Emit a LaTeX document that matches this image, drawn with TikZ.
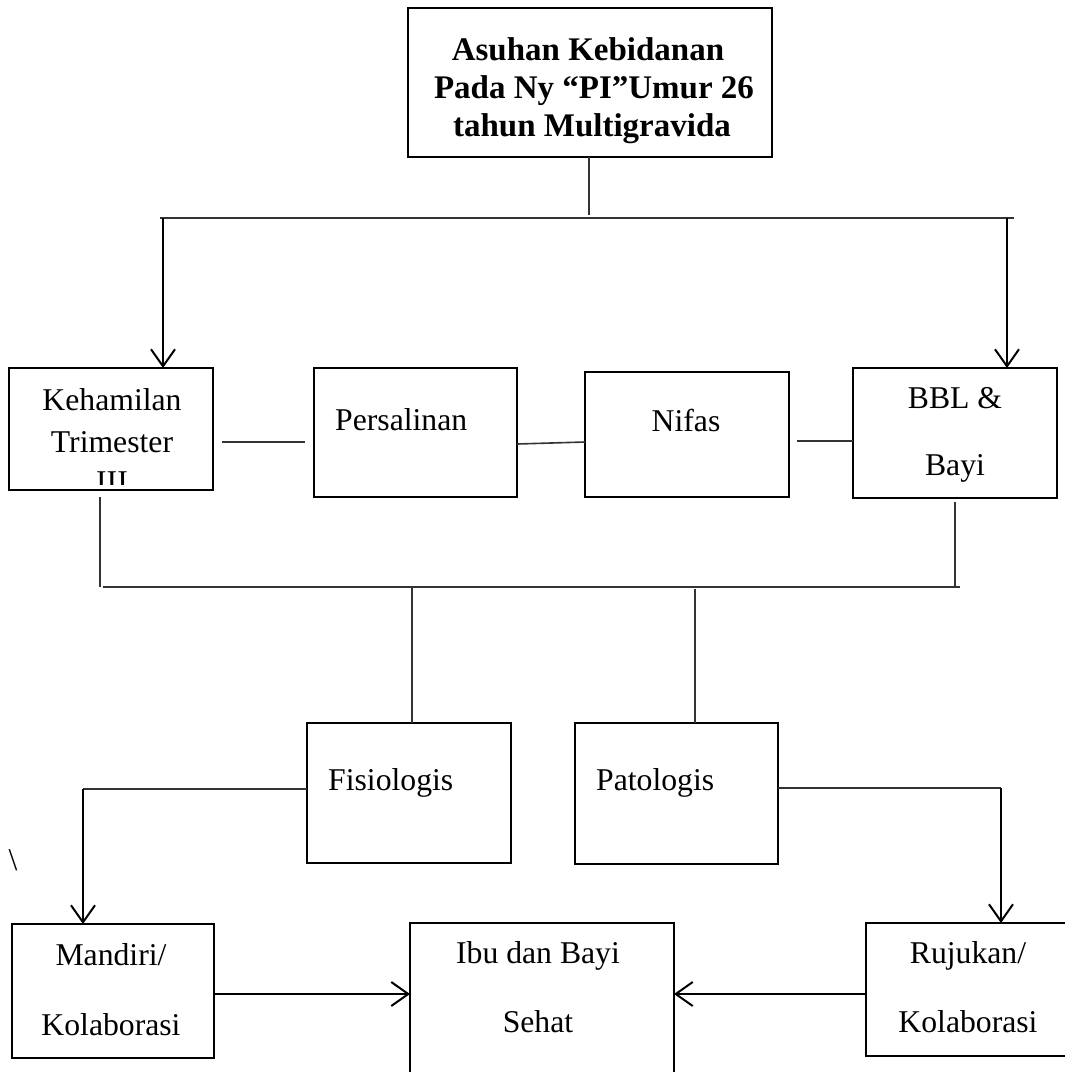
\documentclass[tikz,border=0pt]{standalone}
\usepackage{fontspec}
\setmainfont{Liberation Serif}
\usetikzlibrary{arrows.meta}
\begin{document}
\begin{tikzpicture}[x=1pt,y=-1pt,
  box/.style={draw=black,line width=2.8pt,rectangle,inner sep=0pt,outer sep=0pt},
  txt/.style={font=\fontsize{31.7}{40}\selectfont,inner sep=0pt,anchor=base},
  btxt/.style={font=\bfseries\fontsize{33}{38}\selectfont,inner sep=0pt,anchor=base},
  conn/.style={draw=black!80,line width=1.6pt},
  arr/.style={draw=black,line width=2pt,-{Straight Barb[length=17pt,width=24pt]}}]
\useasboundingbox (0,0) rectangle (1065,1072);
\clip (0,0) rectangle (1065,1072);

% boxes
\node[box,minimum width=364pt,minimum height=149pt] (top) at (590,82.5) {};
\node[box,minimum width=204pt,minimum height=122pt] (keh) at (111,429) {};
\node[box,minimum width=203pt,minimum height=129pt] (pers) at (415.5,432.5) {};
\node[box,minimum width=204pt,minimum height=125pt] (nifas) at (687,434.5) {};
\node[box,minimum width=204pt,minimum height=130pt] (bbl) at (955,433) {};
\node[box,minimum width=204pt,minimum height=140pt] (fis) at (409,793) {};
\node[box,minimum width=203pt,minimum height=141pt] (pat) at (676.5,793.5) {};
\node[box,minimum width=202pt,minimum height=134pt] (mand) at (113,991) {};
\node[box,minimum width=264pt,minimum height=167pt] (ibu) at (542,1006.5) {};
\node[box,minimum width=204pt,minimum height=133pt] (ruj) at (968,989.5) {};

% texts
\node[btxt] (t1) at (588,60) {Asuhan Kebidanan};
\node[btxt] (t2) at (594,98) {Pada Ny “PI”Umur 26};
\node[btxt] (t3) at (592,136) {tahun Multigravida};
\node[txt] (k1) at (112,410) {Kehamilan};
\node[txt] (k2) at (112,452) {Trimester};
\begin{scope}
  \clip (9,368) rectangle (213,484);
  \node[txt] (k3) at (112,492) {III};
\end{scope}
\node[txt,anchor=base west] (p1) at (335,430) {Persalinan};
\node[txt] (n1) at (686,431) {Nifas};
\node[txt] (b1) at (955,408) {BBL \&};
\node[txt] (b2) at (955,475) {Bayi};
\node[txt,anchor=base west] (f1) at (328,790) {Fisiologis};
\node[txt,anchor=base west] (pa1) at (596,790) {Patologis};
\node[txt] (m1) at (111,965) {Mandiri/};
\node[txt] (m2) at (111,1035) {Kolaborasi};
\node[txt] (i1) at (538,963) {Ibu dan Bayi};
\node[txt] (i2) at (538,1032) {Sehat};
\node[txt] (r1) at (968,963) {Rujukan/};
\node[txt] (r2) at (968,1032) {Kolaborasi};
\node[txt] (bs) at (13,870) {\textbackslash};

% coordinates
\coordinate (tdown) at (589,215);
\coordinate (hl) at (160,218);
\coordinate (hr) at (1014,218);
\coordinate (al) at (163,218);
\coordinate (ar) at (1007,218);
\coordinate (kp1) at (222,442);
\coordinate (kp2) at (305,442);
\coordinate (nb1) at (797,441);
\coordinate (kd1) at (100,497);
\coordinate (kd2) at (100,587);
\coordinate (ml) at (103,587);
\coordinate (mr) at (960,587);
\coordinate (bd1) at (955,502);
\coordinate (bd2) at (955,587);
\coordinate (fv) at (412,586);
\coordinate (pv) at (695,589);

% connectors
\draw[conn] (top.south -| tdown) -- (tdown);
\draw[conn] (hl) -- (hr);
\draw[arr] (al) -- (al |- keh.north);
\draw[arr] (ar) -- (ar |- bbl.north);
\draw[conn] (kp1) -- (kp2);
\draw[conn] (pers.east |- 0,444) -- (nifas.west |- 0,442);
\draw[conn] (nb1) -- (nb1 -| bbl.west);
\draw[conn] (kd1) -- (kd2);
\draw[conn] (ml) -- (mr);
\draw[conn] (bd1) -- (bd2);
\draw[conn] (fv) -- (fv |- fis.north);
\draw[conn] (pv) -- (pv |- pat.north);
\draw[conn] (fis.west |- 0,789) -- (83,789);
\draw[arr] (83,789) -- ([xshift=-30pt]mand.north);
\draw[conn] (pat.east |- 0,788) -- (1001,788);
\draw[arr] (1001,788) -- ([xshift=33pt]ruj.north);
\draw[arr] (mand.east |- 0,994) -- (ibu.west |- 0,994);
\draw[arr] (ruj.west |- 0,994) -- (ibu.east |- 0,994);
\end{tikzpicture}
\end{document}
